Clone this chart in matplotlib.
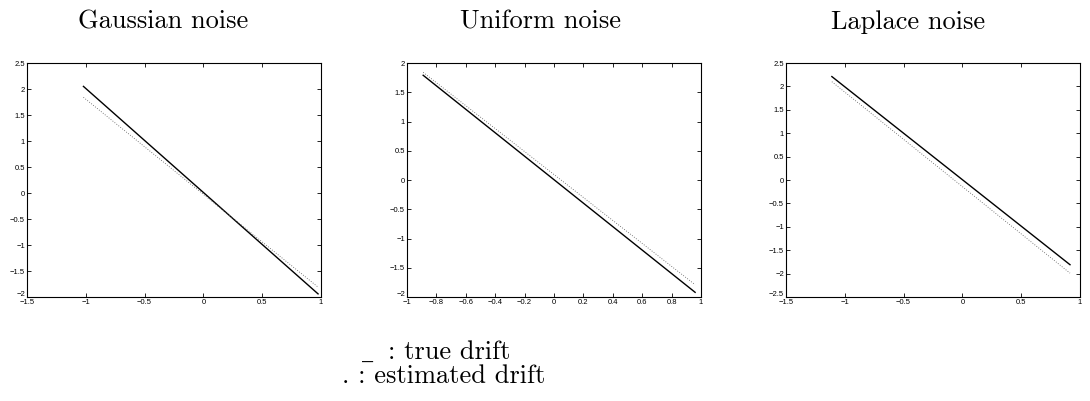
import matplotlib
matplotlib.use("Agg")
import matplotlib.pyplot as plt
import matplotlib.transforms as mtransforms

# readings from the picture: x positions and drift values per panel
titles = ["Gaussian noise", "Uniform noise", "Laplace noise"]

gauss_x = [-1.02, 0.975]
gauss_true = [2.05, -1.94]
gauss_est = [1.84, -1.81]

unif_x = [-0.89, 0.96]
unif_true = [1.79, -1.92]
unif_est = [1.84, -1.79]

lap_x = [-1.11, 0.915]
lap_true = [2.21, -1.81]
lap_est = [2.10, -1.99]

xlims = [(-1.5, 1), (-1, 1), (-1.5, 1)]
ylims = [(-2, 2.5), (-2, 2), (-2.5, 2.5)]
xticks = [[-1.5, -1, -0.5, 0, 0.5, 1],
          [-1, -0.8, -0.6, -0.4, -0.2, 0, 0.2, 0.4, 0.6, 0.8, 1],
          [-1.5, -1, -0.5, 0, 0.5, 1]]
yticks = [[-2, -1.5, -1, -0.5, 0, 0.5, 1, 1.5, 2, 2.5],
          [-2, -1.5, -1, -0.5, 0, 0.5, 1, 1.5, 2],
          [-2.5, -2, -1.5, -1, -0.5, 0, 0.5, 1, 1.5, 2, 2.5]]

series = [(gauss_x, gauss_true, gauss_est),
          (unif_x, unif_true, unif_est),
          (lap_x, lap_true, lap_est)]

plt.rcParams['font.family'] = ['Liberation Sans', 'DejaVu Sans']

fig = plt.figure(figsize=(10.9, 4.01), dpi=100)

lefts = [27, 407, 786]
title_x = [163, 540, 908]
for i in range(3):
    ax = fig.add_axes([lefts[i] / 1090, 104 / 401, 294 / 1090, 234 / 401])
    x, y_true, y_est = series[i]
    ax.plot(x, y_true, color='black', linewidth=1.0)
    ax.plot(x, y_est, color='#555555', linewidth=0.6, linestyle=(0, (1, 2)))
    ax.set_xlim(*xlims[i])
    ax.set_ylim(*ylims[i])
    ax.set_xticks(xticks[i])
    ax.set_yticks(yticks[i])
    ax.set_xticklabels([('%g' % v).replace('-', '\u2212') for v in xticks[i]])
    ax.set_yticklabels([('%g' % v).replace('-', '\u2212') for v in yticks[i]])
    ax.tick_params(direction='in', length=3, width=0.6, labelsize=5.5,
                   top=True, right=True, pad=1.5)
    # lift the lowest y label a little, as in the corner of the original
    lab = ax.get_yticklabels()[0]
    lab.set_transform(lab.get_transform() +
                      mtransforms.ScaledTranslation(0, 3 / 100, fig.dpi_scale_trans))
    for s in ax.spines.values():
        s.set_linewidth(0.8)
    fig.text(title_x[i] / 1090, 1 - 22 / 401, titles[i], family='cmr10',
             fontsize=19, ha='center', va='center')

# legend text under the middle panel
fig.text(362 / 1090, 1 - 352 / 401, "_", family='DejaVu Serif',
         fontsize=16, ha='left', va='center')
fig.text(388 / 1090, 1 - 352 / 401, ": true drift", family='cmr10',
         fontsize=19, ha='left', va='center')
fig.text(342 / 1090, 1 - 376 / 401, ". : estimated drift", family='cmr10',
         fontsize=19, ha='left', va='center')

fig.savefig("out.png", dpi=100)
